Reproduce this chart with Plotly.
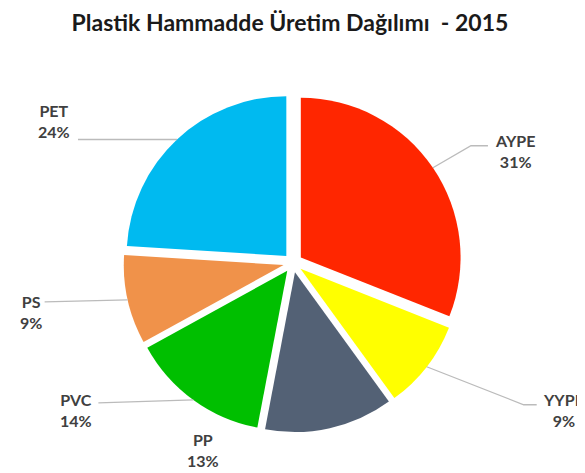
import math
import plotly.graph_objects as go

# ---- data ----
labels = ["AYPE", "YYPE", "PP", "PVC", "PS", "PET"]
values = [31, 9, 13, 14, 9, 24]
colors = ["#FF2600", "#FFFF00", "#536175", "#00BF00", "#F0924A", "#00BAF0"]
title_text = "Plastik Hammadde Üretim Dağılımı  - 2015"

# ---- layout / styling ----
W, H = 585, 473
PULL = 0.06
DOM_X = [0.197, 0.777]
DOM_Y = [0.103, 0.819]
# label text offset (px, from slice's outer edge point; +y downwards)
text_offsets = {
    "AYPE": (82, -17),
    "YYPE": (137, 43),
    "PP": (-127, 22),
    "PVC": (-117, 10),
    "PS": (-97, 12),
    "PET": (-123, -19),
}
# leader line: elbow and end offsets (px, from edge point); None = no line
line_offsets = {
    "AYPE": ((38, -22), (55, -22)),
    "YYPE": ((97, 38), (110, 38)),
    "PP": None,
    "PVC": ((-95, 3), (-95, 3)),
    "PS": ((-83, 2), (-83, 2)),
    "PET": ((-99, 0), (-99, 0)),
}

fig = go.Figure(go.Pie(
    labels=labels, values=values, sort=False, direction="clockwise", rotation=0,
    marker=dict(colors=colors, line=dict(width=0)),
    pull=[PULL] * len(values), textinfo="none", hoverinfo="label+percent",
    domain=dict(x=DOM_X, y=DOM_Y), showlegend=False,
))

# geometry derived from domain (same rule plotly uses)
bw = (DOM_X[1] - DOM_X[0]) * W
bh = (DOM_Y[1] - DOM_Y[0]) * H
r = min(bw, bh) / (2 + 2 * PULL)
cx = (DOM_X[0] + DOM_X[1]) / 2 * W
cy = (1 - (DOM_Y[0] + DOM_Y[1]) / 2) * H


def to_paper(x, y):
    return x / W, 1 - y / H


total = sum(values)
cum = 0
annotations = []
shapes = []
for lab, v in zip(labels, values):
    mid = (cum + v / 2) / total * 2 * math.pi
    cum += v
    re = r * (1 + PULL)
    px = cx + re * math.sin(mid)
    py = cy - re * math.cos(mid)
    tx, ty = text_offsets[lab]
    pct = round(v / total * 100)
    txt = f"<b>{lab}</b><br><b>{pct}%</b>"
    ax_, ay_ = to_paper(px + tx, py + ty)
    annotations.append(dict(
        x=ax_, y=ay_, xref="paper", yref="paper", text=txt, showarrow=False,
        xanchor="center", yanchor="middle",
        font=dict(family="Lato", size=16, color="#404040")))
    lo = line_offsets[lab]
    if lo:
        (ex, ey), (fx, fy) = lo
        p0 = to_paper(px, py)
        p1 = to_paper(px + ex, py + ey)
        p2 = to_paper(px + fx, py + fy)
        path = (f"M {p0[0]:.5f} {p0[1]:.5f} L {p1[0]:.5f} {p1[1]:.5f} "
                f"L {p2[0]:.5f} {p2[1]:.5f}")
        shapes.append(dict(type="path", path=path, xref="paper", yref="paper",
                           line=dict(color="#BBBBBB", width=1.3)))

fig.update_layout(
    width=W, height=H,
    margin=dict(l=0, r=0, t=0, b=0),
    paper_bgcolor="white", plot_bgcolor="white",
    title=dict(text=f"<b>{title_text}</b>", x=0.482, xanchor="center", y=0.968, yanchor="middle",
               font=dict(family="Lato", size=23, color="#1a1a1a")),
    annotations=annotations,
    shapes=shapes,
)

fig.write_html("out.html")
